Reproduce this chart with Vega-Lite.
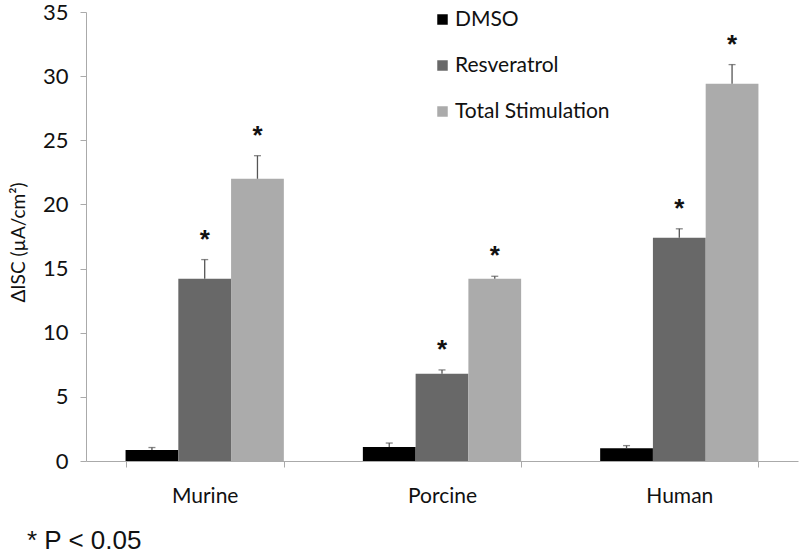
{
  "$schema": "https://vega.github.io/schema/vega-lite/v6.json",
  "width": 712,
  "height": 449,
  "autosize": {"type": "none"},
  "padding": {"left": 86, "top": 12, "right": 2, "bottom": 93},
  "config": {"font": "Lato", "view": {"stroke": null}},
  "title": {"text": "* P < 0.05", "orient": "bottom", "anchor": "start", "frame": "group", "font": "Liberation Sans", "fontSize": 26, "fontWeight": "normal", "color": "#111", "dx": -59, "offset": 22},
  "data": {"values": [
    {"species": "Murine", "treatment": "DMSO", "value": 0.85, "err": 1.05, "sig": ""},
    {"species": "Murine", "treatment": "Resveratrol", "value": 14.2, "err": 15.7, "sig": "*"},
    {"species": "Murine", "treatment": "Total Stimulation", "value": 22.0, "err": 23.8, "sig": "*"},
    {"species": "Porcine", "treatment": "DMSO", "value": 1.1, "err": 1.4, "sig": ""},
    {"species": "Porcine", "treatment": "Resveratrol", "value": 6.8, "err": 7.1, "sig": "*"},
    {"species": "Porcine", "treatment": "Total Stimulation", "value": 14.2, "err": 14.4, "sig": "*"},
    {"species": "Human", "treatment": "DMSO", "value": 1.0, "err": 1.2, "sig": ""},
    {"species": "Human", "treatment": "Resveratrol", "value": 17.4, "err": 18.1, "sig": "*"},
    {"species": "Human", "treatment": "Total Stimulation", "value": 29.4, "err": 30.9, "sig": "*"}
  ]},
  "encoding": {
    "x": {"field": "species", "type": "nominal", "sort": ["Murine", "Porcine", "Human"],
      "scale": {"paddingInner": 0.333, "paddingOuter": 0.1667},
      "axis": {"title": null, "labelAngle": 0, "labelFontSize": 21, "labelColor": "#111", "labelPadding": 18, "tickBand": "extent", "tickSize": 6, "tickColor": "#aaa", "domainColor": "#aaa"}},
    "xOffset": {"field": "treatment", "type": "nominal", "sort": ["DMSO", "Resveratrol", "Total Stimulation"], "scale": {"paddingInner": 0, "paddingOuter": 0}}
  },
  "layer": [
    {
      "mark": {"type": "bar"},
      "encoding": {
        "y": {"field": "value", "type": "quantitative", "scale": {"domain": [0, 35], "nice": false},
          "axis": {"values": [0, 5, 10, 15, 20, 25, 30, 35], "grid": false, "title": "ΔISC (µA/cm²)", "titleFontSize": 19, "titleFontWeight": "normal", "titleColor": "#111", "titleX": -68, "titleY": 230, "titleAlign": "center", "titleBaseline": "middle", "titleAngle": -90, "labelFontSize": 22, "labelColor": "#111", "labelPadding": 12, "tickSize": 6, "tickColor": "#aaa", "domainColor": "#aaa"}},
        "color": {"field": "treatment", "type": "nominal", "sort": ["DMSO", "Resveratrol", "Total Stimulation"],
          "scale": {"range": ["#000000", "#686868", "#ababab"]},
          "legend": {"title": null, "orient": "none", "legendX": 346, "legendY": -3, "symbolType": "square", "symbolSize": 110, "symbolStrokeWidth": 0, "labelFontSize": 21, "labelColor": "#111", "labelOffset": 2, "rowPadding": 24}}
      }
    },
    {
      "mark": {"type": "rule", "color": "#555", "strokeWidth": 1.3},
      "encoding": {"y": {"field": "value", "type": "quantitative"}, "y2": {"field": "err"}}
    },
    {
      "mark": {"type": "tick", "color": "#555", "thickness": 1.3, "size": 7},
      "encoding": {"y": {"field": "err", "type": "quantitative"}}
    },
    {
      "transform": [{"filter": "datum.sig == '*'"}],
      "mark": {"type": "text", "font": "Liberation Sans", "fontWeight": "bold", "fontSize": 26, "dy": -12, "baseline": "alphabetic", "color": "#111"},
      "encoding": {"y": {"field": "err", "type": "quantitative"}, "text": {"field": "sig"}}
    }
  ]
}
